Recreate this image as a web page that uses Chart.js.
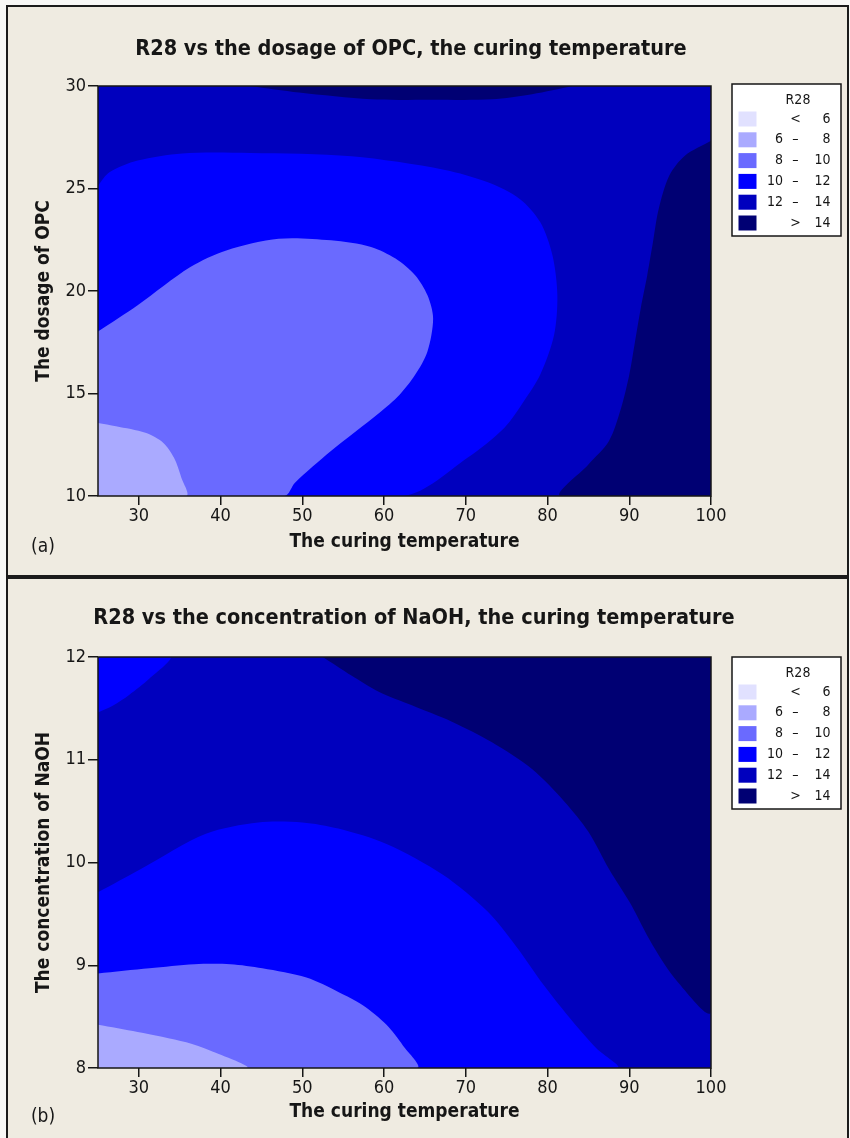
<!DOCTYPE html>
<html><head><meta charset="utf-8">
<script src="https://cdn.jsdelivr.net/npm/chart.js@4.4.1/dist/chart.umd.min.js"></script>
<style>
html,body{margin:0;padding:0;background:#f8f8f6;width:850px;height:1138px;overflow:hidden;position:relative;}
.panel{position:absolute;background:#efebe1;box-sizing:border-box;border:2px solid #1b1b1b;}
canvas{position:absolute;left:0;}
</style></head><body>
<div class="panel" style="left:6px;top:5px;width:843px;height:572px;"></div>
<div class="panel" style="left:6px;top:577px;width:843px;height:600px;"></div>
<canvas id="ca" width="850" height="576" style="top:0;width:850px;height:576px"></canvas>
<canvas id="cb" width="850" height="561" style="top:577px;width:850px;height:561px"></canvas>
<script>
// ---------- shared axis data ----------
const tempTicks = [30, 40, 50, 60, 70, 80, 90, 100];
const tempMin = 25, tempMax = 100;
const opcTicks = [10, 15, 20, 25, 30];
const opcMin = 10, opcMax = 30;
const naohTicks = [8, 9, 10, 11, 12];
const naohMin = 8, naohMax = 12;

// ---------- legend ----------
const legendTitle = 'R28';
const legendLow  = ['', '6', '8', '10', '12', ''];
const legendSym  = ['<', '\u2013', '\u2013', '\u2013', '\u2013', '>'];
const legendHigh = ['6', '8', '10', '12', '14', '14'];
const levelColors = ['#e1e1ff', '#aaaaff', '#6a6aff', '#0000ff', '#0000be', '#000073'];

// ---------- panel (a) contour boundaries ----------
const a_gt14Top_x = [43.6, 49.6, 58.4, 65.8, 73.2, 78.1, 83.1];
const a_gt14Top_y = [30, 29.68, 29.35, 29.33, 29.35, 29.6, 30];
const a_gt14Right_x = [100, 96.8, 94.9, 93.6, 92.9, 92.2, 91.4, 90.7, 90.0, 89.0, 87.5, 85.0, 81.6];
const a_gt14Right_y = [27.33, 26.6, 25.63, 24.0, 22.39, 20.77, 19.15, 17.53, 15.91, 14.29, 12.67, 11.54, 10];
const a_10to12_x = [25, 26.4, 29.85, 35.3, 43.6, 56.0, 67.3, 72.7, 76.6, 79.1, 80.6, 81.2, 80.8, 79.1, 77.1, 74.7, 70.2, 62.4];
const a_10to12_y = [25.14, 25.79, 26.36, 26.71, 26.73, 26.57, 25.92, 25.30, 24.49, 23.36, 21.74, 19.80, 17.85, 15.91, 14.62, 13.32, 11.86, 10];
const a_8to10_x = [25, 29.85, 36.3, 40.7, 47.1, 53.5, 58.4, 61.4, 63.8, 65.3, 66.0, 65.3, 63.8, 61.9, 59.4, 53.5, 49.1, 47.8];
const a_8to10_y = [18.02, 19.31, 21.17, 21.98, 22.55, 22.47, 22.15, 21.58, 20.77, 19.80, 18.66, 17.04, 15.91, 14.94, 14.05, 12.19, 10.65, 10];
const a_6to8_x = [25, 27.2, 30.8, 33.0, 34.3, 35.2, 35.8];
const a_6to8_y = [13.56, 13.4, 13.08, 12.59, 11.86, 10.89, 10];

// ---------- panel (b) contour boundaries ----------
const b_gt14_x = [52.5, 56.0, 59.4, 63.4, 68.3, 73.2, 78.1, 82.1, 85.0, 87.5, 90.0, 92.9, 95.9, 100];
const b_gt14_y = [12, 11.82, 11.66, 11.53, 11.37, 11.17, 10.91, 10.59, 10.30, 9.94, 9.62, 9.19, 8.84, 8.55];
const b_10to12Top_x = [25, 26.9, 28.8, 31.3, 33.8];
const b_10to12Top_y = [11.46, 11.53, 11.63, 11.79, 12];
const b_10to12_x = [25, 30.3, 38.2, 44.6, 50.0, 54.4, 60.3, 67.2, 72.7, 76.1, 79.6, 83.1, 86.0, 88.5];
const b_10to12_y = [9.71, 9.94, 10.28, 10.39, 10.39, 10.33, 10.18, 9.88, 9.52, 9.19, 8.80, 8.45, 8.19, 8.0];
const b_8to10_x = [25, 31.3, 36.8, 41.2, 45.1, 50.5, 54.4, 57.4, 60.3, 62.3, 64.0];
const b_8to10_y = [8.92, 8.97, 9.01, 9.01, 8.97, 8.88, 8.74, 8.61, 8.42, 8.22, 8.0];
const b_6to8_x = [25, 29.85, 35.8, 38.7, 43.2];
const b_6to8_y = [8.42, 8.35, 8.25, 8.17, 8.0];

// ---------- rendering ----------
const FONT = '"DejaVu Sans Condensed", "DejaVu Sans", sans-serif';
const TXT = '#161616';
Chart.defaults.font.family = FONT;
Chart.defaults.color = TXT;

function poly(xs, ys, corners) {
  const pts = xs.map((v, i) => ({x: v, y: ys[i]}));
  (corners || []).forEach(c => pts.push({x: c[0], y: c[1]}));
  return pts;
}

// layers listed in paint order (bottom first)
const panelA = {
  yTicks: opcTicks, yMin: opcMin, yMax: opcMax,
  layers: [
    {level: 4, pts: poly([tempMin, tempMax, tempMax, tempMin], [opcMin, opcMin, opcMax, opcMax]), flat: true},
    {level: 5, pts: poly(a_gt14Top_x, a_gt14Top_y)},
    {level: 5, pts: poly(a_gt14Right_x, a_gt14Right_y, [[tempMax, opcMin]])},
    {level: 3, pts: poly(a_10to12_x, a_10to12_y, [[tempMin, opcMin]])},
    {level: 2, pts: poly(a_8to10_x, a_8to10_y, [[tempMin, opcMin]])},
    {level: 1, pts: poly(a_6to8_x, a_6to8_y, [[tempMin, opcMin]])}
  ]
};
const panelB = {
  yTicks: naohTicks, yMin: naohMin, yMax: naohMax,
  layers: [
    {level: 4, pts: poly([tempMin, tempMax, tempMax, tempMin], [naohMin, naohMin, naohMax, naohMax]), flat: true},
    {level: 5, pts: poly(b_gt14_x, b_gt14_y, [[tempMax, naohMax]])},
    {level: 3, pts: poly(b_10to12Top_x, b_10to12Top_y, [[tempMin, naohMax]])},
    {level: 3, pts: poly(b_10to12_x, b_10to12_y, [[tempMin, naohMin]])},
    {level: 2, pts: poly(b_8to10_x, b_8to10_y, [[tempMin, naohMin]])},
    {level: 1, pts: poly(b_6to8_x, b_6to8_y, [[tempMin, naohMin]])}
  ]
};

const decor = {
  id: 'decor',
  afterDraw(chart, args, o) {
    const ctx = chart.ctx, ca = chart.chartArea;
    ctx.save();
    ctx.strokeStyle = '#161616'; ctx.lineWidth = 1.5;
    ctx.strokeRect(ca.left, ca.top, ca.right - ca.left, ca.bottom - ca.top);
    ctx.fillStyle = TXT;
    ctx.textBaseline = 'middle';
    ctx.textAlign = 'center';
    ctx.font = 'bold 21.5px ' + FONT;
    ctx.fillText(o.title, o.titleX, o.titleY);
    ctx.font = '19px ' + FONT;
    ctx.fillText(o.tag, o.tagX, o.tagY);
    // legend
    const L = 732, R = 841, T = o.legendTop, H = 152;
    ctx.lineWidth = 1.5; ctx.strokeStyle = '#161616';
    ctx.fillStyle = '#ffffff';
    ctx.fillRect(L, T, R - L, H);
    ctx.strokeRect(L, T, R - L, H);
    ctx.fillStyle = TXT;
    ctx.font = '14px ' + FONT;
    ctx.textAlign = 'center';
    ctx.fillText(legendTitle, 798, T + 16);
    for (let i = 0; i < legendSym.length; i++) {
      const cy = T + 35 + 20.8 * i;
      ctx.fillStyle = levelColors[i];
      ctx.fillRect(738.5, cy - 7.5, 18, 15);
      ctx.fillStyle = TXT;
      ctx.textAlign = 'right';
      ctx.fillText(legendLow[i], 783, cy);
      ctx.fillText(legendHigh[i], 830.5, cy);
      ctx.textAlign = 'center';
      ctx.fillText(legendSym[i], 795.5, cy);
    }
    ctx.restore();
  }
};

const AX_TITLE_SIZE = 19;
const HALF_LH = AX_TITLE_SIZE * 0.6;

function makeChart(id, panel, geo, texts) {
  const ds = panel.layers.map((ly, i) => ({
    data: ly.pts,
    showLine: true,
    fill: 'shape',
    tension: ly.flat ? 0 : 0.3,
    capBezierPoints: true,
    pointRadius: 0,
    borderWidth: 0,
    borderColor: 'rgba(0,0,0,0)',
    backgroundColor: levelColors[ly.level],
    order: panel.layers.length - i
  }));
  const tickFont = {size: 18};
  const axTitleFont = {size: AX_TITLE_SIZE, weight: 'bold'};
  return new Chart(document.getElementById(id), {
    type: 'scatter',
    data: {datasets: ds},
    options: {
      responsive: false, animation: false, events: [],
      layout: {padding: {left: 0, right: 139, top: geo.top, bottom: 1}},
      plugins: {legend: {display: false}, tooltip: {enabled: false}, decor: texts},
      scales: {
        x: {
          type: 'linear', min: tempMin, max: tempMax,
          afterBuildTicks: s => { s.ticks = tempTicks.map(v => ({value: v})); },
          afterFit: s => { s.height = geo.xH; },
          grid: {drawOnChartArea: false, drawTicks: true, tickLength: 9, color: '#161616', lineWidth: 1.5},
          border: {display: false},
          ticks: {font: tickFont, padding: 1, color: TXT, maxRotation: 0, autoSkip: false},
          title: {display: true, text: 'The curing temperature', font: axTitleFont, color: TXT,
                  padding: {top: 0, bottom: geo.xTitleOff - HALF_LH}}
        },
        y: {
          type: 'linear', min: panel.yMin, max: panel.yMax,
          afterBuildTicks: s => { s.ticks = panel.yTicks.map(v => ({value: v})); },
          afterFit: s => { s.width = 98; },
          grid: {drawOnChartArea: false, drawTicks: true, tickLength: 10, color: '#161616', lineWidth: 1.5},
          border: {display: false},
          ticks: {font: tickFont, padding: 2, color: TXT, autoSkip: false},
          title: {display: true, text: texts.yTitle, font: axTitleFont, color: TXT,
                  padding: {top: 44 - HALF_LH, bottom: 0}}
        }
      }
    },
    plugins: [decor]
  });
}

makeChart('ca', panelA, {top: 86, xH: 79, xTitleOff: 33}, {
  title: 'R28 vs the dosage of OPC, the curing temperature', titleX: 411, titleY: 49,
  tag: '(a)', tagX: 43, tagY: 547, legendTop: 84, yTitle: 'The dosage of OPC'
});
makeChart('cb', panelB, {top: 80, xH: 69, xTitleOff: 25}, {
  title: 'R28 vs the concentration of NaOH, the curing temperature', titleX: 414, titleY: 41,
  tag: '(b)', tagX: 43, tagY: 540, legendTop: 80, yTitle: 'The concentration of NaOH'
});
</script>
</body></html>
